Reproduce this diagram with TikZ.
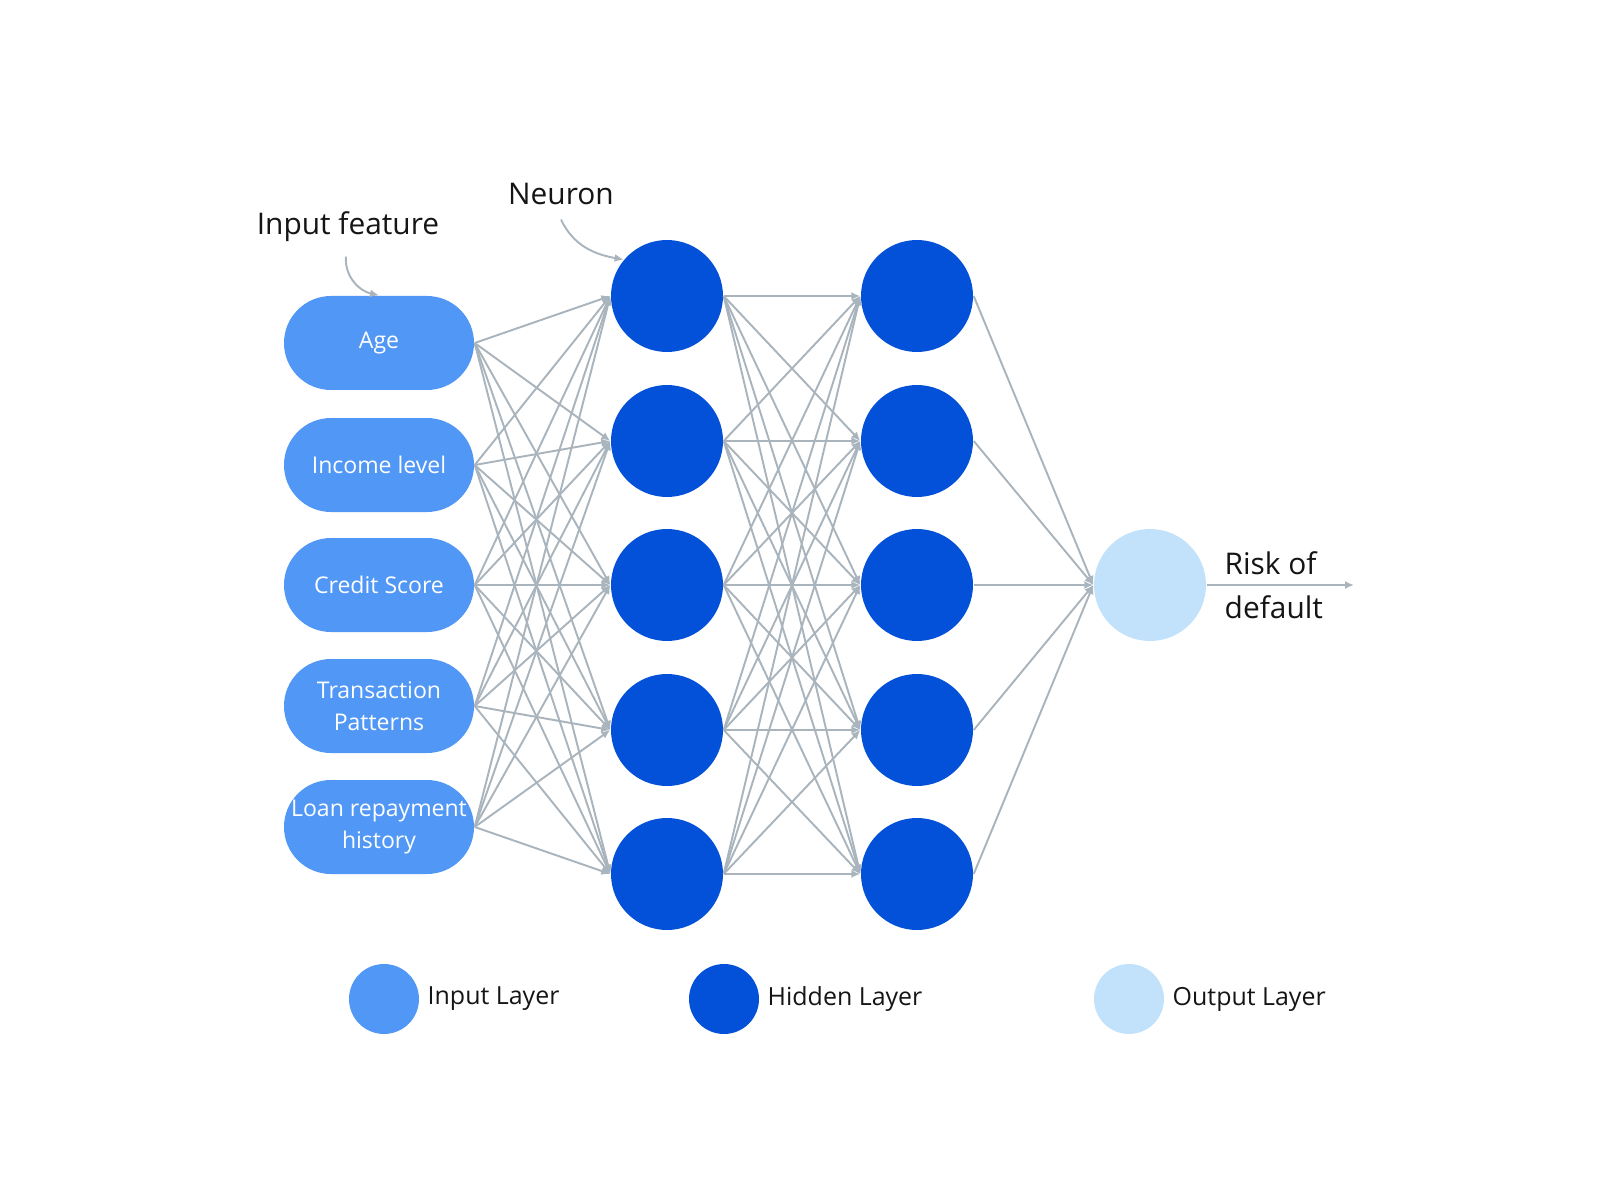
\documentclass[tikz,border=0pt]{standalone}
\usepackage{fontspec}
\setmainfont{Open Sans}
\usetikzlibrary{arrows.meta}

\definecolor{inblue}{HTML}{5097F6}
\definecolor{hidblue}{HTML}{0350D9}
\definecolor{outblue}{HTML}{C2E2FC}
\definecolor{linkgray}{HTML}{A9B4BD}
\definecolor{inkblack}{HTML}{151515}

\tikzset{
  feature/.style={fill=inblue, rounded corners=4.7mm, minimum width=19mm, minimum height=9.4mm,
    inner sep=0pt, text=white, align=center, font=\fontsize{6.55}{9.1}\selectfont},
  neuron/.style={circle, fill=hidblue, minimum size=11.2mm, inner sep=0pt},
  outneuron/.style={circle, fill=outblue, minimum size=11.2mm, inner sep=0pt},
  link/.style={draw=linkgray, line width=0.55pt, -{Latex[length=0.9mm,width=0.8mm]}},
  note/.style={text=inkblack, font=\fontsize{8.5}{12.5}\selectfont, inner sep=0pt},
  legdot/.style={circle, minimum size=7mm, inner sep=0pt},
  legtext/.style={text=inkblack, font=\fontsize{7.1}{8}\selectfont, anchor=west, inner sep=0pt}
}

\begin{document}
\begin{tikzpicture}[x=0.1mm, y=-0.1mm]
    \useasboundingbox (0,0) rectangle (1600,1200);

    % input features
    \node[feature] (in1) at (379,343) {Age};
    \node[feature] (in2) at (379,465) {Income level};
    \node[feature] (in3) at (379,585) {Credit Score};
    \node[feature] (in4) at (379,706) {Transaction\\Patterns};
    \node[feature] (in5) at (379,827) {Loan repayment\\history};

    % hidden layers
    \foreach \i/\y in {1/296, 2/441, 3/585, 4/730, 5/874} {
        \node[neuron] (ha\i) at (667,\y) {};
        \node[neuron] (hb\i) at (917,\y) {};
    }

    % output neuron
    \node[outneuron] (out) at (1150,585) {};
    \coordinate (risk) at (1354,585);

    % connections
    \foreach \i in {1,...,5} {
        \foreach \j in {1,...,5} {
            \draw[link] (in\i.east) -- (ha\j.west);
            \draw[link] (ha\i.east) -- (hb\j.west);
        }
        \draw[link] (hb\i.east) -- (out.west);
    }
    \draw[link] (out.east) -- (risk);
    \node[note, anchor=west, align=left] (risklbl) at (1224,585) {Risk of\\default};

    % annotations
    \node[note] (feat) at (348,227) {Input feature};
    \node[note] (neu) at (561,194) {Neuron};
    \draw[link] ([xshift=-0.2mm, yshift=-1.4mm]feat.south) to[out=-95, in=168] (in1.north);
    \draw[link] ([yshift=-1.4mm]neu.south) to[out=-65, in=170] (ha1.140);

    % legend
    \node[legdot, fill=inblue] (lg1) at (384,999) {};
    \node[legtext] (lt1) at (427,999) {Input Layer};
    \node[legdot, fill=hidblue] (lg2) at (724,999) {};
    \node[legtext] (lt2) at (767,999) {Hidden Layer};
    \node[legdot, fill=outblue] (lg3) at (1129,999) {};
    \node[legtext] (lt3) at (1172,999) {Output Layer};
\end{tikzpicture}
\end{document}
